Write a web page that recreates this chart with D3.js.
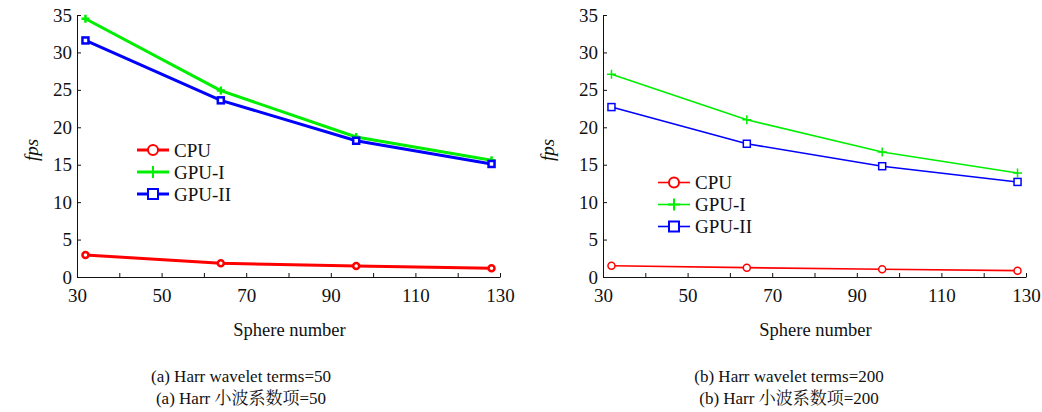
<!DOCTYPE html>
<html>
<head>
<meta charset="utf-8">
<script src="https://cdn.jsdelivr.net/npm/d3@7"></script>
<style>
  body { margin: 0; background: #fff; }
  text { font-family: "Liberation Serif", "Times New Roman", serif; fill: #111; }
  .cjk { font-family: "Liberation Serif", "Noto Serif CJK SC", "Noto Sans CJK SC", serif; }
</style>
</head>
<body>
<svg width="1042" height="412"></svg>
<script>
// data
var sphere = [32, 64, 96, 128];
var cpu50 = [2.94, 1.83, 1.47, 1.16];
var gpuI50 = [34.5, 24.9, 18.7, 15.6];
var gpuII50 = [31.6, 23.6, 18.2, 15.1];
var cpu200 = [1.51, 1.25, 1.03, 0.85];
var gpuI200 = [27.1, 21.0, 16.7, 13.9];
var gpuII200 = [22.7, 17.8, 14.8, 12.7];
var seriesNames = ["CPU", "GPU-I", "GPU-II"];
var seriesColors = ["#ff0000", "#00ee00", "#0000ff"];
var seriesMarks = ["circle", "plus", "square"];
var xTicks = [30, 40, 50, 60, 70, 80, 90, 100, 110, 120, 130];
var xLabels = [30, 50, 70, 90, 110, 130];
var yTicks = [0, 5, 10, 15, 20, 25, 30, 35];
var captionsEn = ["(a) Harr wavelet terms=50", "(b) Harr wavelet terms=200"];
var captionsZh = ["(a) Harr 小波系数项=50", "(b) Harr 小波系数项=200"];

var svg = d3.select("svg");

function marker(g, type, cx, cy, color, sw, size) {
  if (type == "circle") {
    g.append("circle").attr("cx", cx).attr("cy", cy).attr("r", size)
      .attr("fill", "#fff").attr("stroke", color).attr("stroke-width", sw);
  } else if (type == "plus") {
    g.append("path")
      .attr("d", "M" + (cx - size - 1) + "," + cy + "H" + (cx + size + 1) + "M" + cx + "," + (cy - size - 1) + "V" + (cy + size + 1))
      .attr("stroke", color).attr("stroke-width", sw).attr("fill", "none");
  } else {
    g.append("rect").attr("x", cx - size).attr("y", cy - size)
      .attr("width", 2 * size).attr("height", 2 * size)
      .attr("fill", "#fff").attr("stroke", color).attr("stroke-width", sw);
  }
}

function panel(p) {
  var x = d3.scaleLinear().domain([30, 130]).range([p.left, p.right]);
  var y = d3.scaleLinear().domain([0, 35]).range([277, 15]);
  var g = svg.append("g");

  g.append("rect").attr("x", p.left).attr("y", 15)
    .attr("width", p.right - p.left).attr("height", 262).attr("fill", "#fff");

  g.append("g")
    .attr("transform", "translate(0,277)")
    .call(d3.axisBottom(x).tickValues(xTicks).tickSize(-4).tickSizeOuter(0).tickPadding(12)
      .tickFormat(function(d) { return xLabels.indexOf(d) >= 0 ? d : ""; }))
    .call(function(a) {
      a.selectAll("text").attr("font-size", 19).attr("fill", "#111")
        .style("font-family", "'Liberation Serif', serif");
      a.selectAll("line, path").attr("stroke", "#111");
    });

  g.append("g")
    .attr("transform", "translate(" + p.left + ",0)")
    .call(d3.axisLeft(y).tickValues(yTicks).tickSize(-4).tickSizeOuter(0).tickPadding(5))
    .call(function(a) {
      a.selectAll("text").attr("font-size", 19).attr("fill", "#111")
        .style("font-family", "'Liberation Serif', serif");
      a.selectAll("line, path").attr("stroke", "#111");
    });

  var line = d3.line()
    .x(function(d, i) { return x(sphere[i]); })
    .y(function(d) { return y(d); });

  p.series.forEach(function(vals, k) {
    g.append("path").datum(vals)
      .attr("d", line)
      .attr("fill", "none")
      .attr("stroke", seriesColors[k])
      .attr("stroke-width", p.lw)
      .attr("stroke-linejoin", "round");
    vals.forEach(function(v, i) {
      marker(g, seriesMarks[k], x(sphere[i]), y(v), seriesColors[k], p.mw, p.ms);
    });
  });

  // legend
  p.series.forEach(function(vals, k) {
    var ly = p.legY + k * 22;
    g.append("line").attr("x1", p.legX).attr("x2", p.legX + 32)
      .attr("y1", ly).attr("y2", ly)
      .attr("stroke", seriesColors[k]).attr("stroke-width", p.lw);
    marker(g, seriesMarks[k], p.legX + 16, ly, seriesColors[k], 2, 5);
    g.append("text").attr("x", p.legX + 37).attr("y", ly + 6.5)
      .attr("font-size", 19).text(seriesNames[k]);
  });

  g.append("text")
    .attr("x", (p.left + p.right) / 2 + 1).attr("y", 336)
    .attr("text-anchor", "middle").attr("font-size", 18.5)
    .text("Sphere number");

  g.append("text")
    .attr("transform", "translate(" + (p.left - p.fpsOff) + ",150) rotate(-90)")
    .attr("text-anchor", "middle").attr("font-size", 19).attr("font-style", "italic")
    .text("fps");

  g.append("text")
    .attr("x", p.capX).attr("y", 382)
    .attr("text-anchor", "middle").attr("font-size", 17)
    .text(p.capEn);
  g.append("text").attr("class", "cjk")
    .attr("x", p.capX).attr("y", 404)
    .attr("text-anchor", "middle").attr("font-size", 17)
    .text(p.capZh);
}

panel({
  left: 77, right: 500, series: [cpu50, gpuI50, gpuII50],
  lw: 3, mw: 2.5, ms: 3, legX: 137, legY: 150, fpsOff: 39,
  capX: 241, capEn: captionsEn[0], capZh: captionsZh[0]
});

panel({
  left: 603, right: 1026, series: [cpu200, gpuI200, gpuII200],
  lw: 1.6, mw: 1.5, ms: 3.5, legX: 658, legY: 182.5, fpsOff: 49,
  capX: 789, capEn: captionsEn[1], capZh: captionsZh[1]
});
</script>
</body>
</html>
